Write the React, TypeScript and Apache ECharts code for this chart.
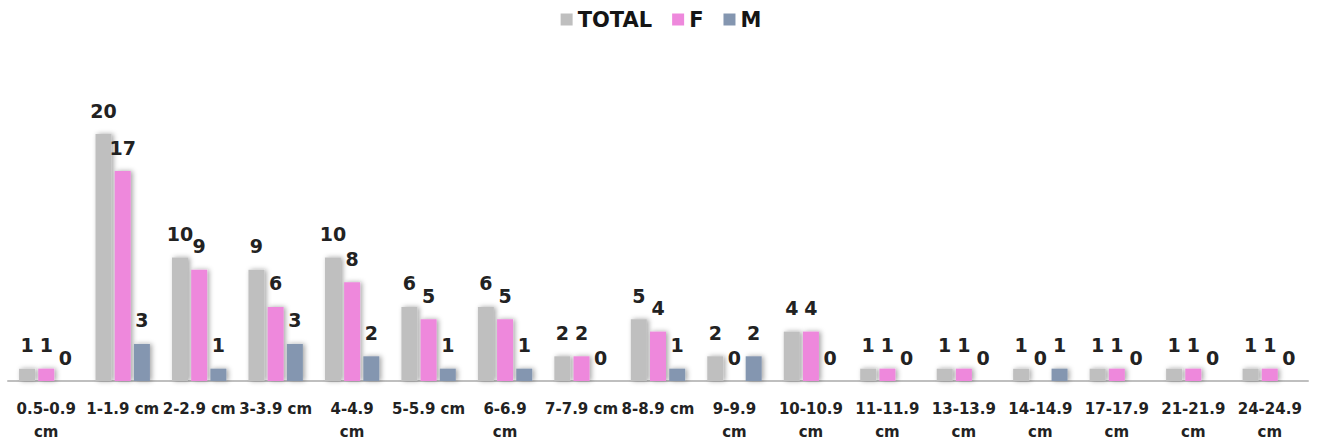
import React, { useEffect, useRef } from "react";
import * as echarts from "echarts";

// Size ranges (axis tick labels, with the line breaks used on the axis)
const categories = [
  "0.5-0.9\ncm",
  "1-1.9 cm",
  "2-2.9 cm",
  "3-3.9 cm",
  "4-4.9\ncm",
  "5-5.9 cm",
  "6-6.9\ncm",
  "7-7.9 cm",
  "8-8.9 cm",
  "9-9.9\ncm",
  "10-10.9\ncm",
  "11-11.9\ncm",
  "13-13.9\ncm",
  "14-14.9\ncm",
  "17-17.9\ncm",
  "21-21.9\ncm",
  "24-24.9\ncm",
];

const totalValues = [1, 20, 10, 9, 10, 6, 6, 2, 5, 2, 4, 1, 1, 1, 1, 1, 1];
const femaleValues = [1, 17, 9, 6, 8, 5, 5, 2, 4, 0, 4, 1, 1, 0, 1, 1, 1];
const maleValues = [0, 3, 1, 3, 2, 1, 1, 0, 1, 2, 0, 0, 0, 1, 0, 0, 0];

const FONT = "'DejaVu Sans', sans-serif";

export default function App() {
  const ref = useRef<HTMLDivElement>(null);

  useEffect(() => {
    if (!ref.current) return;
    const chart = echarts.init(ref.current, undefined, { renderer: "svg" });

    const barStyle = (color: string) => ({
      color,
      shadowColor: "rgba(0,0,0,0.35)",
      shadowBlur: 5,
      shadowOffsetX: 2,
      shadowOffsetY: 0,
    });

    const label = {
      show: true,
      position: "top" as const,
      distance: 14,
      fontFamily: FONT,
      fontSize: 19,
      fontWeight: "bold" as const,
      color: "#222222",
    };

    const makeSeries = (name: string, data: number[], color: string) => ({
      name,
      type: "bar" as const,
      data,
      barWidth: 16,
      barGap: "20%",
      itemStyle: barStyle(color),
      label,
    });

    chart.setOption({
      animation: false,
      backgroundColor: "#ffffff",
      textStyle: { fontFamily: FONT },
      legend: {
        top: 4,
        left: "center",
        itemWidth: 12,
        itemHeight: 12,
        itemGap: 20,
        icon: "rect",
        textStyle: {
          fontFamily: FONT,
          fontSize: 21,
          fontWeight: "bold",
          color: "#151515",
        },
        data: ["TOTAL", "F", "M"],
      },
      grid: { left: 8, right: 14, top: 134, bottom: 59 },
      xAxis: {
        type: "category",
        data: categories,
        axisLine: { lineStyle: { color: "#bfbfbf", width: 2 } },
        axisTick: { show: false },
        axisLabel: {
          interval: 0,
          margin: 16,
          fontFamily: FONT,
          fontSize: 15,
          fontWeight: "bold",
          color: "#222222",
          lineHeight: 23,
        },
      },
      yAxis: {
        type: "value",
        min: 0,
        max: 20,
        show: false,
        splitLine: { show: false },
      },
      series: [
        makeSeries("TOTAL", totalValues, "#bfbfbf"),
        makeSeries("F", femaleValues, "#ee88dc"),
        makeSeries("M", maleValues, "#8496b0"),
      ],
    });

    return () => chart.dispose();
  }, []);

  return (
    <div
      ref={ref}
      style={{ position: "fixed", left: 0, top: 0, width: 1322, height: 443 }}
    />
  );
}
